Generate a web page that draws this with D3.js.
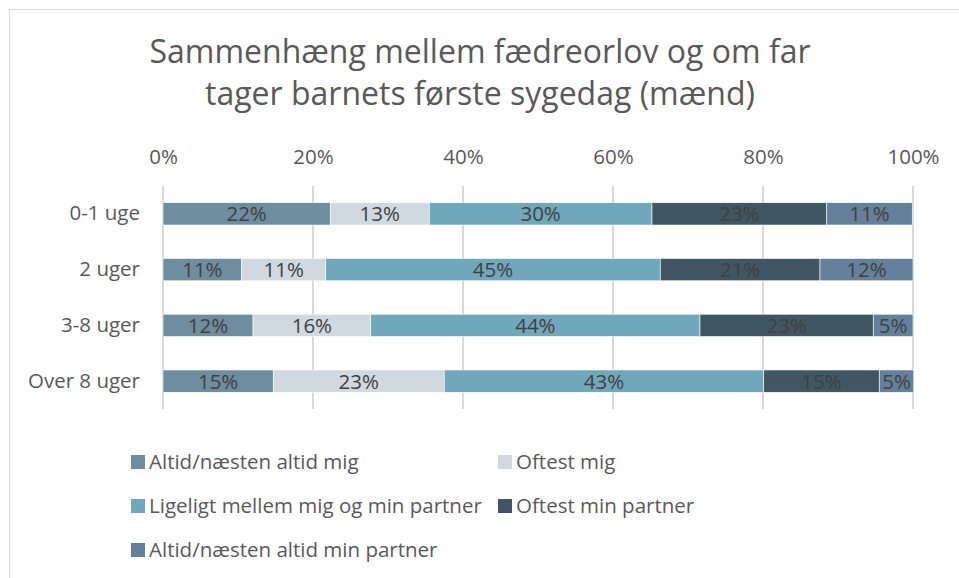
<!DOCTYPE html>
<html lang="da">
<head>
<meta charset="UTF-8" />
<title>Sammenhæng mellem fædreorlov og om far tager barnets første sygedag</title>
<script src="https://d3js.org/d3.v7.min.js"></script>
<style>
  body { margin: 0; background: #fff; }
  svg { font-family: "Open Sans", sans-serif; }
</style>
</head>
<body>
<svg></svg>
<script>
  var width = 959;
  var height = 578;

  // data
  var categories = ["0-1 uge", "2 uger", "3-8 uger", "Over 8 uger"];
  var seriesNames = [
    "Altid/næsten altid mig",
    "Oftest mig",
    "Ligeligt mellem mig og min partner",
    "Oftest min partner",
    "Altid/næsten altid min partner"
  ];
  var altidMig = [22.3, 10.5, 12.0, 14.7];
  var oftestMig = [13.2, 11.2, 15.7, 22.8];
  var ligeligt = [29.7, 44.6, 43.9, 42.6];
  var oftestPartner = [23.3, 21.3, 23.1, 15.4];
  var altidPartner = [11.4, 12.4, 5.3, 4.6];
  var tickValues = [0, 20, 40, 60, 80, 100];
  var colors = ["#6e8d9e", "#d1d9e0", "#71a7ba", "#415663", "#65809a"];

  var seriesValues = [altidMig, oftestMig, ligeligt, oftestPartner, altidPartner];

  var margin = { top: 186, right: 46, bottom: 169, left: 163 };
  var fontSize = "20.5px";

  var svg = d3.select("svg").attr("width", width).attr("height", height);

  // chart border
  svg.append("rect")
    .attr("x", 9.5).attr("y", 9.5)
    .attr("width", width).attr("height", height)
    .attr("fill", "none")
    .attr("stroke", "#d9d9d9");

  // title
  svg.append("text")
    .attr("x", 480)
    .attr("y", 63)
    .attr("text-anchor", "middle")
    .style("font-size", "32px")
    .style("fill", "#595959")
    .selectAll("tspan")
    .data(["Sammenhæng mellem fædreorlov og om far", "tager barnets første sygedag (mænd)"])
    .join("tspan")
    .attr("x", 480)
    .attr("dy", (d, i) => i === 0 ? 0 : 42)
    .text(d => d);

  var x = d3.scaleLinear()
    .domain([0, 100])
    .range([margin.left, width - margin.right]);

  var y = d3.scaleBand()
    .domain(categories)
    .range([margin.top, height - margin.bottom])
    .paddingInner(0.6)
    .paddingOuter(0.3);

  // grid lines
  svg.append("g")
    .selectAll("line")
    .data(tickValues)
    .join("line")
    .attr("x1", d => x(d)).attr("x2", d => x(d))
    .attr("y1", margin.top).attr("y2", height - margin.bottom)
    .attr("stroke", "#d9d9d9")
    .attr("stroke-width", 2);

  // top axis
  var xAxis = d3.axisTop(x)
    .tickValues(tickValues)
    .tickFormat(d => d + "%")
    .tickSize(0)
    .tickPadding(0);

  svg.append("g")
    .attr("transform", `translate(0, ${margin.top - 22})`)
    .call(xAxis)
    .call(g => g.select(".domain").remove())
    .selectAll("text")
    .style("font-family", "'Open Sans', sans-serif")
    .style("font-size", fontSize)
    .style("fill", "#595959");

  // category labels
  var yAxis = d3.axisLeft(y).tickSize(0).tickPadding(23);
  svg.append("g")
    .attr("transform", `translate(${margin.left}, 0)`)
    .call(yAxis)
    .call(g => g.select(".domain").remove())
    .selectAll("text")
    .style("font-family", "'Open Sans', sans-serif")
    .style("font-size", fontSize)
    .style("fill", "#595959");

  // stack
  var rows = categories.map((c, i) => {
    var r = { category: c };
    seriesNames.forEach((s, j) => { r[s] = seriesValues[j][i]; });
    return r;
  });
  var stacked = d3.stack().keys(seriesNames)(rows);

  var layers = svg.append("g")
    .selectAll("g")
    .data(stacked)
    .join("g")
    .attr("fill", (d, i) => colors[i]);

  layers.selectAll("rect")
    .data(d => d)
    .join("rect")
    .attr("x", d => x(d[0]))
    .attr("y", d => y(d.data.category))
    .attr("width", d => x(d[1]) - x(d[0]))
    .attr("height", y.bandwidth())
    .attr("stroke", "#fff")
    .attr("stroke-width", 0.6);

  layers.selectAll("text")
    .data(d => d)
    .join("text")
    .attr("x", d => (x(d[0]) + x(d[1])) / 2)
    .attr("y", d => y(d.data.category) + y.bandwidth() / 2)
    .attr("dy", "0.36em")
    .attr("text-anchor", "middle")
    .style("font-size", fontSize)
    .style("fill", "#404040")
    .text(d => Math.round(d[1] - d[0]) + "%");

  // legend
  var legendPos = [
    [131, 462], [498, 462],
    [131, 506], [498, 506],
    [131, 550]
  ];
  var legend = svg.append("g")
    .selectAll("g")
    .data(seriesNames)
    .join("g")
    .attr("transform", (d, i) => `translate(${legendPos[i][0]}, ${legendPos[i][1]})`);

  legend.append("rect")
    .attr("x", 0).attr("y", -7)
    .attr("width", 14).attr("height", 14)
    .attr("fill", (d, i) => colors[i]);

  legend.append("text")
    .attr("x", 18)
    .attr("dy", "0.36em")
    .style("font-size", fontSize)
    .style("fill", "#595959")
    .text(d => d);
</script>
</body>
</html>
